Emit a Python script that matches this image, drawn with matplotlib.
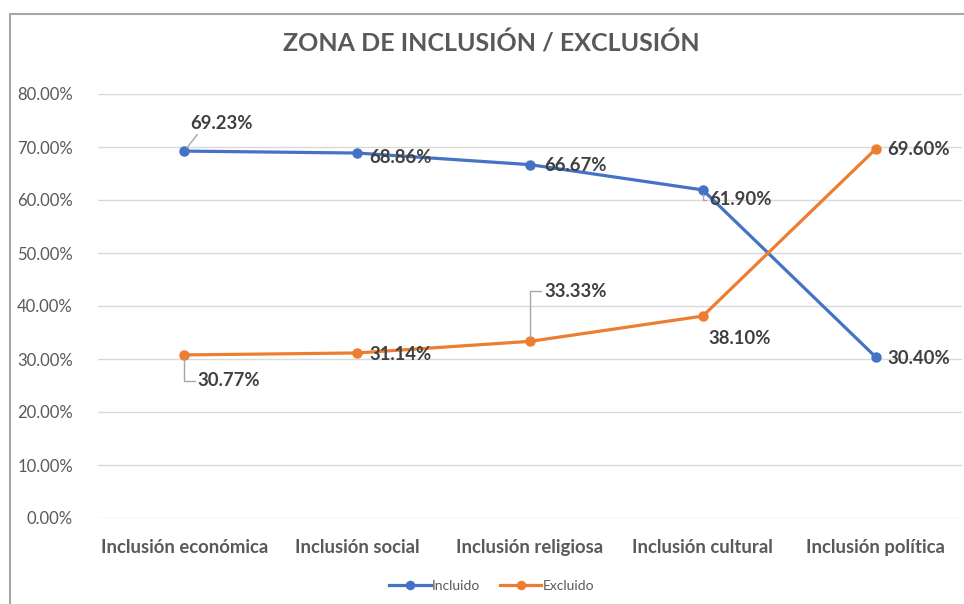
import matplotlib.pyplot as plt
from matplotlib.ticker import PercentFormatter
from matplotlib.patches import Rectangle

plt.rcParams['font.family'] = ['Lato', 'DejaVu Sans']

categorias = ["Inclusión económica", "Inclusión social", "Inclusión religiosa",
              "Inclusión cultural", "Inclusión política"]
incluido = [69.23, 68.86, 66.67, 61.90, 30.40]
excluido = [30.77, 31.14, 33.33, 38.10, 69.60]

azul = "#4472C4"
naranja = "#ED7D31"
gris = "#595959"
texto = "#404040"

fig = plt.figure(figsize=(9.64, 6.04), dpi=100)
ax = fig.add_axes([98 / 964, 1 - 518 / 604, 864 / 964, 424 / 604])

# borde del gráfico (se sale por la derecha y por abajo)
fig.patches.append(Rectangle((10 / 964, -0.1), 1.2, 1 - 14 / 604 + 0.1,
                             transform=fig.transFigure, fill=False,
                             edgecolor="#A6A6A6", linewidth=1.5))

x = range(len(categorias))
ax.plot(x, incluido, color=azul, lw=2.3, marker="o", ms=6.5, label="Incluido", zorder=3)
ax.plot(x, excluido, color=naranja, lw=2.3, marker="o", ms=6.5, label="Excluido", zorder=3)

ax.set_xlim(-0.5, 4.5)
ax.set_ylim(0, 80)
ax.set_yticks(range(0, 81, 10))
ax.yaxis.set_major_formatter(PercentFormatter(decimals=2))
ax.grid(axis="y", color="#D9D9D9", lw=1)
ax.set_axisbelow(True)
for s in ax.spines.values():
    s.set_visible(False)
ax.tick_params(length=0)
ax.tick_params(axis="y", labelsize=12, labelcolor=gris, pad=18)
ax.set_xticks(list(x))
ax.set_xticklabels(categorias, fontsize=13.3, fontweight="bold", color=gris)
ax.tick_params(axis="x", pad=15)

fig.text(0.51, 1 - 43 / 604, "ZONA DE INCLUSIÓN / EXCLUSIÓN", ha="center", va="center",
         fontsize=18, fontweight="bold", color=gris)

lbl = dict(fontsize=13.3, fontweight="bold", color=texto, va="center", textcoords="offset pixels")
leader = dict(arrowstyle="-", color="#A6A6A6", lw=1, shrinkA=0, shrinkB=3)

def pct(v):
    return f"{v:.2f}%"

# Incluido
ax.annotate(pct(incluido[0]), (0, incluido[0]), xytext=(37, 28), ha="center",
            arrowprops=dict(leader, relpos=(0.15, 0)), **lbl)
ax.annotate(pct(incluido[1]), (1, incluido[1]), xytext=(12, -4), ha="left", **lbl)
ax.annotate(pct(incluido[2]), (2, incluido[2]), xytext=(14, -1), ha="left", **lbl)
ax.annotate(pct(incluido[3]), (3, incluido[3]), xytext=(6, -10), ha="left",
            arrowprops=dict(leader, relpos=(0, 0.5), connectionstyle="angle,angleA=0,angleB=90"), **lbl)
ax.annotate(pct(incluido[4]), (4, incluido[4]), xytext=(12, -2), ha="left", **lbl)

# Excluido
ax.annotate(pct(excluido[0]), (0, excluido[0]), xytext=(13, -26), ha="left",
            arrowprops=dict(leader, relpos=(0, 0.5), connectionstyle="angle,angleA=0,angleB=90"), **lbl)
ax.annotate(pct(excluido[1]), (1, excluido[1]), xytext=(12, -2), ha="left", **lbl)
ax.annotate(pct(excluido[2]), (2, excluido[2]), xytext=(14, 50), ha="left",
            arrowprops=dict(leader, relpos=(0, 0.5), connectionstyle="angle,angleA=0,angleB=90"), **lbl)
ax.annotate(pct(excluido[3]), (3, excluido[3]), xytext=(6, -22), ha="left", **lbl)
ax.annotate(pct(excluido[4]), (4, excluido[4]), xytext=(12, 0), ha="left", **lbl)

leg = fig.legend(loc="center", bbox_to_anchor=(0.51, 1 - 586 / 604), ncol=2, frameon=False,
                 fontsize=10, handlelength=3.0, handletextpad=0.1, columnspacing=1.4,
                 markerscale=0.9)
for t in leg.get_texts():
    t.set_color(gris)

fig.savefig("out.png", dpi=100)
